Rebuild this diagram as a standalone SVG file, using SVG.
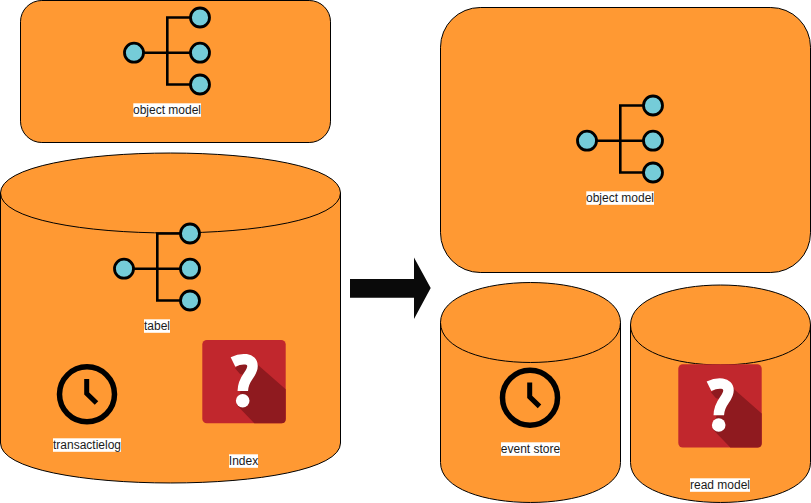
<svg xmlns="http://www.w3.org/2000/svg" xmlns:xlink="http://www.w3.org/1999/xlink" width="811" height="503" viewBox="0 0 811 503">
<style>
.box{fill:#ff9933;stroke:#000;stroke-width:1}
.lid{fill:none;stroke:#000;stroke-width:1}
.lbl{font-family:"Liberation Sans",Arial,sans-serif;font-size:12px;fill:#1a1a1a;text-anchor:middle}
.bg{fill:#fff;stroke:none}
.wire{fill:none;stroke:#000;stroke-width:2.6}
.dot{fill:#75ccd8;stroke:#000;stroke-width:2.8}
.ring{fill:none;stroke:#000;stroke-width:5.5}
.hand{fill:none;stroke:#000;stroke-width:5}
</style>
<defs>
<g id="tree">
<path class="wire" d="M134 52.7H200M200 17.5H167.3V84.5H200"/>
<circle class="dot" cx="134" cy="52.7" r="9.5"/>
<circle class="dot" cx="200" cy="17.5" r="9.5"/>
<circle class="dot" cx="200" cy="52.7" r="9.5"/>
<circle class="dot" cx="200" cy="84.5" r="9.5"/>
</g>
<g id="clock">
<circle class="ring" cx="87" cy="394.3" r="27.5"/>
<path class="hand" d="M86.7 379V393.5L96.5 403"/>
</g>
<g id="unknown">
<rect x="202.3" y="340" width="83.4" height="83.3" rx="4.5" fill="#c1272d"/>
<path d="M249.3 357.3L285.7 389.3V419.3Q285.7 423.3 281.7 423.3H254.3L236.7 405L240 393.3L245 375L240 374L235 368.3Z" fill="#8f1a1f"/>
<path d="M233 362C242 357.5 252.500 358 252.500 366C252.500 375 243 377 242.800 391" fill="none" stroke="#fff" stroke-width="10.500"/>
<circle cx="242.700" cy="400.700" r="6.800" fill="#fff"/>
</g>
</defs>
<g id="object-model-left">
<rect class="box" x="20.500" y="0.500" width="310" height="142" rx="21.300"/>
<use href="#tree"/>
<rect class="bg" x="133.300" y="103.300" width="67.700" height="13.500"/>
<text class="lbl" x="167" y="114.300">object model</text>
</g>
<g id="database">
<path class="box" d="M0.500 193C0.500 139.700 340.500 139.700 340.500 193V443C340.500 496.300 0.500 496.300 0.500 443Z"/>
<path class="lid" d="M0.500 193C0.500 246.300 340.500 246.300 340.500 193"/>
<g id="tabel">
<use href="#tree" x="-10" y="216"/>
<rect class="bg" x="144" y="319.300" width="26" height="13.500"/>
<text class="lbl" x="157" y="330.300">tabel</text>
</g>
<g id="transactielog">
<use href="#clock"/>
<rect class="bg" x="53" y="438.300" width="68" height="13.500"/>
<text class="lbl" x="87" y="449.300">transactielog</text>
</g>
<g id="index">
<use href="#unknown"/>
<rect class="bg" x="229" y="454.300" width="29" height="13.500"/>
<text class="lbl" x="243.500" y="465.300">Index</text>
</g>
</g>
<g id="object-model-right">
<rect class="box" x="440.500" y="7.500" width="370" height="265" rx="39.750"/>
<use href="#tree" x="453" y="88"/>
<rect class="bg" x="586.300" y="191.300" width="67.700" height="13.500"/>
<text class="lbl" x="620" y="202.300">object model</text>
</g>
<g id="event-store">
<path class="box" d="M440.500 322.500C440.500 269.200 620.500 269.200 620.500 322.500V462.500C620.500 515.800 440.500 515.800 440.500 462.500Z"/>
<path class="lid" d="M440.500 322.500C440.500 375.800 620.500 375.800 620.500 322.500"/>
<use href="#clock" x="443" y="3.400"/>
<rect class="bg" x="501" y="442.300" width="59" height="13.500"/>
<text class="lbl" x="530.500" y="453.300">event store</text>
</g>
<g id="read-model">
<path class="box" d="M630.500 325C630.500 271.700 810.500 271.700 810.500 325V462.500C810.500 515.800 630.500 515.800 630.500 462.500Z"/>
<path class="lid" d="M630.500 325C630.500 378.300 810.500 378.300 810.500 325"/>
<use href="#unknown" x="476" y="24.300"/>
<rect class="bg" x="690" y="478.300" width="60" height="13.500"/>
<text class="lbl" x="720" y="489.300">read model</text>
</g>
<g id="connectors">
<path d="M350 279H414V257.500L430.700 288L414 319V297.700H350Z" fill="#0a0a0a"/>
</g>
</svg>
